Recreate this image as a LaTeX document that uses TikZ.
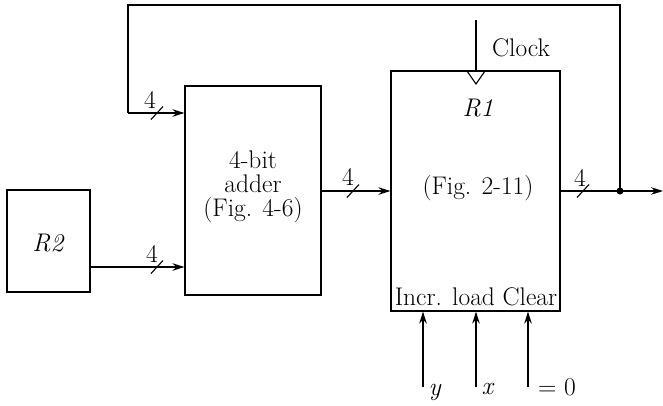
\documentclass[tikz,border=0pt]{standalone}
\usepackage{fontspec}
\usetikzlibrary{arrows.meta}
\begin{document}
\begin{tikzpicture}[x=1pt,y=-1pt,
  every node/.style={font=\fontsize{25.5}{24}\selectfont, inner sep=0pt},
  blk/.style={draw, line width=1.1pt, rectangle},
  wire/.style={line width=1.1pt},
  arr/.style={line width=1.1pt, -{Stealth[length=12pt,width=7.5pt]}},
  slash/.style={line width=1.1pt}]
\useasboundingbox (0,0) rectangle (663,405);
% blocks
\node[blk, minimum width=136pt, minimum height=209pt] (adder) at (253,190.5) {};
\node[blk, minimum width=83pt, minimum height=102pt] (r2) at (48.5,241) {};
\node[blk, minimum width=169pt, minimum height=240pt] (r1) at (475.5,191) {};
% texts
\node[align=center] (addtxt) at (253,186.5) {4-bit\\adder\\(Fig. 4-6)};
\node (r2txt) at (48.5,243) {\textit{R2}};
\node (r1txt) at (478,108) {\textit{R1}};
\node (r1fig) at (478,188) {(Fig. 2-11)};
\node (r1ctl) at (476,297) {Incr. load Clear};
\node (clktxt) at (521,48) {Clock};
% feedback path
\coordinate (dot) at (620,191);
\coordinate (tr) at (620,5);
\coordinate (tl) at (128,5);
\coordinate (fbin) at (128,113);
\coordinate (outend) at (663,191);
\draw[wire] (dot) -- (tr) -- (tl) -- (fbin);
\draw[arr] (fbin) -- (fbin -| adder.west);
\fill (dot) circle (3.5pt);
% R2 to adder
\coordinate (r2out) at (r2.east |- 0,267);
\draw[arr] (r2out) -- (r2out -| adder.west);
% adder to R1
\coordinate (addout) at (adder.east |- 0,191);
\draw[arr] (addout) -- (addout -| r1.west);
% R1 output
\coordinate (r1out) at (r1.east |- 0,191);
\draw[arr] (r1out) -- (outend);
% slashes and labels
\foreach \sx/\sy/\lx/\ly/\nm in {157/113/150/100/sa, 157/267/152/254/sb, 353/191/348/177/sc, 583/191/580/178/sd}{
  \coordinate (\nm) at (\sx,\sy);
  \draw[slash] ([shift={(-6,6.5)}]\nm) -- ([shift={(6,-6.5)}]\nm);
  \node (\nm l) at (\lx,\ly) {4};
}
% clock
\coordinate (clk) at (476,20);
\coordinate (clkb) at (476,71);
\draw[wire] (clk) -- (clkb);
\draw[wire] ([xshift=-9pt]clkb) -- ([yshift=-13pt]clkb) -- ([xshift=9pt]clkb);
% control inputs
\foreach \cx/\nm in {423/cy, 476/cx, 528/cz}{
  \coordinate (\nm) at (\cx,387);
  \draw[arr] (\nm) -- (\nm |- r1.south);
}
\node (ylab) at (435,392) {\textit{y}};
\node (xlab) at (488,389) {\textit{x}};
\node (zlab) at (557,387) {= 0};
\end{tikzpicture}
\end{document}
